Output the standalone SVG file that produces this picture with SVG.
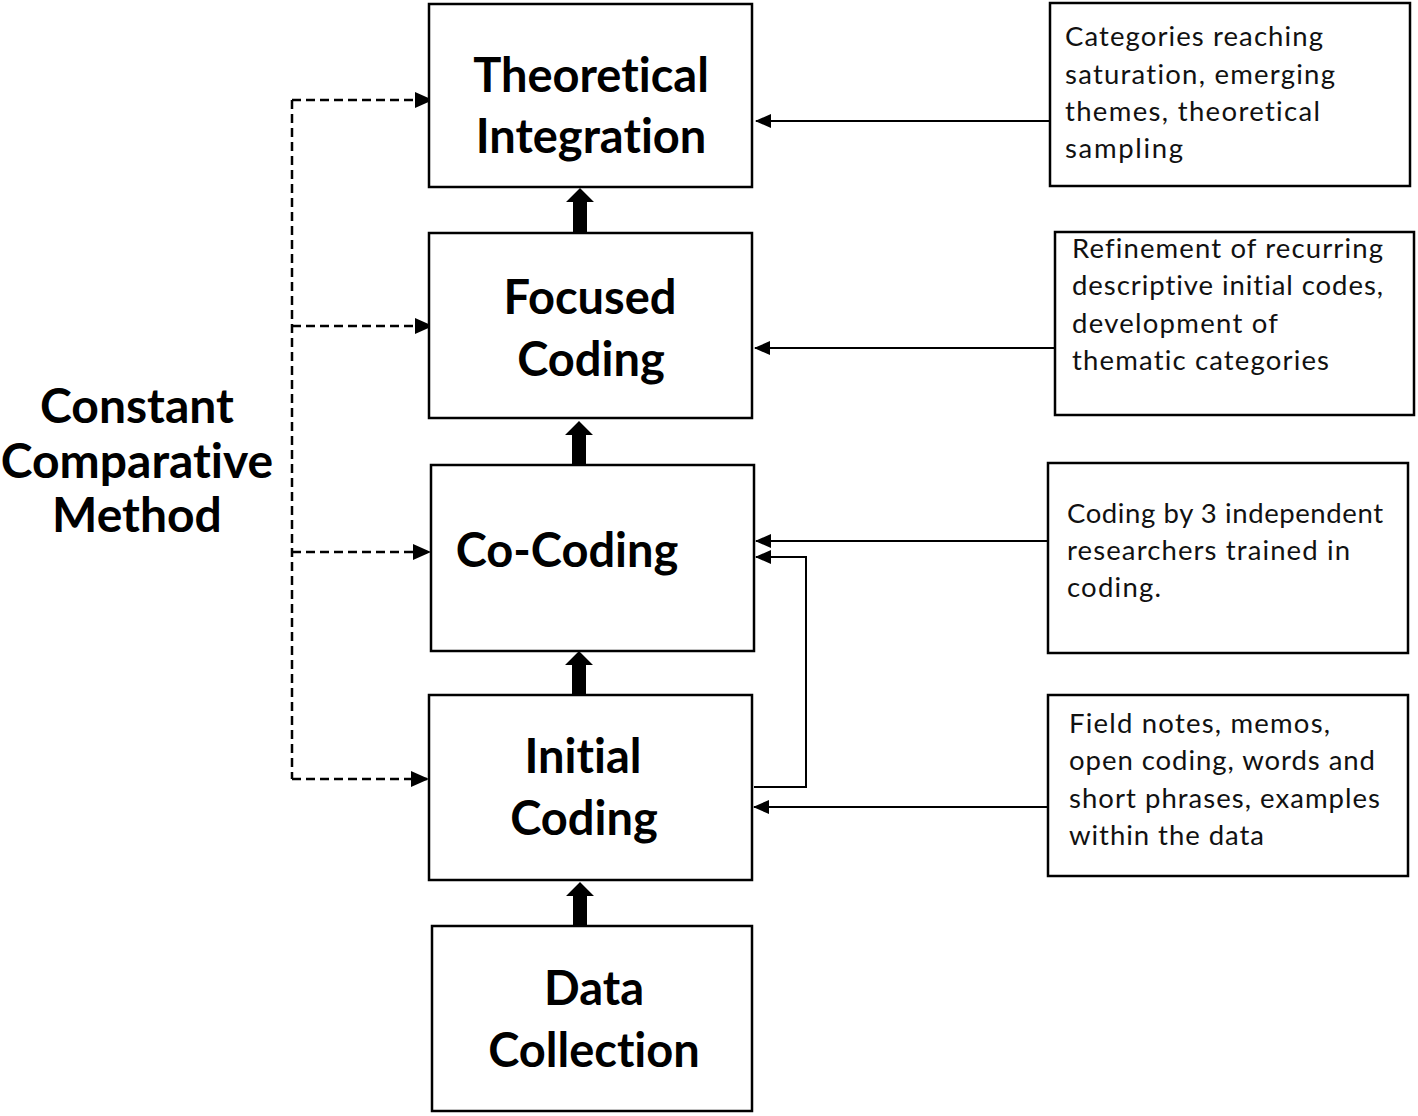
<svg xmlns="http://www.w3.org/2000/svg" width="1418" height="1116" viewBox="0 0 1418 1116">
<defs>
<style>
text{font-variant-ligatures:none;font-feature-settings:"liga" 0}
.box{fill:#fff;stroke:#000;stroke-width:2.5}
.t{font-family:Lato,"Open Sans","Liberation Sans",sans-serif;font-weight:bold;font-size:47px;fill:#000;text-anchor:middle}
.l{font-size:48px}
.d{font-family:Lato,"Open Sans","Liberation Sans",sans-serif;font-size:27.5px;fill:#111}
.ln{fill:none;stroke:#000;stroke-width:2}
.dash{fill:none;stroke:#000;stroke-width:2.5;stroke-dasharray:9 5}
</style>
<marker id="ah" markerWidth="16" markerHeight="14" refX="15" refY="7" orient="auto" markerUnits="userSpaceOnUse">
<path d="M0,0 L16,7 L0,14 Z" fill="#000"/>
</marker>
<marker id="ahd" markerWidth="18" markerHeight="16" refX="17" refY="8" orient="auto" markerUnits="userSpaceOnUse">
<path d="M0,0 L18,8 L0,16 Z" fill="#000"/>
</marker>
<path id="thick" d="M-7,0 L-7,-30 L-14,-30 L0,-44 L14,-30 L7,-30 L7,0 Z" fill="#000"/>
</defs>
<rect width="1418" height="1116" fill="#fff"/>

<g id="connectors">
<use href="#thick" x="580" y="232"/>
<use href="#thick" x="579" y="465"/>
<use href="#thick" x="579" y="695"/>
<use href="#thick" x="580" y="926"/>
<line class="ln" x1="1050" y1="121" x2="756" y2="121" marker-end="url(#ah)"/>
<line class="ln" x1="1054" y1="348" x2="755" y2="348" marker-end="url(#ah)"/>
<line class="ln" x1="1048" y1="541" x2="756" y2="541" marker-end="url(#ah)"/>
<line class="ln" x1="1048" y1="807" x2="754" y2="807" marker-end="url(#ah)"/>
<polyline class="ln" points="754,787 806,787 806,557 756,557" marker-end="url(#ah)"/>
<path class="dash" d="M292,100 L292,779"/>
<line class="dash" x1="292" y1="100" x2="432" y2="100" marker-end="url(#ahd)"/>
<line class="dash" x1="292" y1="326" x2="432" y2="326" marker-end="url(#ahd)"/>
<line class="dash" x1="292" y1="552" x2="430" y2="552" marker-end="url(#ahd)"/>
<line class="dash" x1="292" y1="779" x2="428" y2="779" marker-end="url(#ahd)"/>
</g>

<g id="ccm">
<text class="t l" x="137" y="423">Constant</text>
<text class="t l" x="137" y="478">Comparative</text>
<text class="t l" x="137" y="532">Method</text>
</g>

<g id="theoretical-integration">
<rect class="box" x="429" y="4" width="323" height="183"/>
<text class="t" x="591" y="92">Theoretical</text>
<text class="t" x="591" y="153">Integration</text>
</g>
<g id="focused-coding">
<rect class="box" x="429" y="233" width="323" height="185"/>
<text class="t" x="590" y="314">Focused</text>
<text class="t" x="591" y="376">Coding</text>
</g>
<g id="co-coding">
<rect class="box" x="431" y="465" width="323" height="186"/>
<text class="t" x="567" y="567">Co-Coding</text>
</g>
<g id="initial-coding">
<rect class="box" x="429" y="695" width="323" height="185"/>
<text class="t" x="583" y="773">Initial</text>
<text class="t" x="584" y="835">Coding</text>
</g>
<g id="data-collection">
<rect class="box" x="432" y="926" width="320" height="185"/>
<text class="t" x="594" y="1005">Data</text>
<text class="t" x="594" y="1067">Collection</text>
</g>

<g id="note-theoretical">
<rect class="box" x="1050" y="3" width="360" height="183"/>
<text class="d" x="1065" y="46" textLength="258">Categories reaching</text>
<text class="d" x="1065" y="84" textLength="270">saturation, emerging</text>
<text class="d" x="1065" y="121" textLength="255">themes, theoretical</text>
<text class="d" x="1065" y="158" textLength="118">sampling</text>
</g>
<g id="note-focused">
<rect class="box" x="1055" y="232" width="359" height="183"/>
<text class="d" x="1072" y="258" textLength="311">Refinement of recurring</text>
<text class="d" x="1072" y="295" textLength="311">descriptive initial codes,</text>
<text class="d" x="1072" y="333" textLength="206">development of</text>
<text class="d" x="1072" y="370" textLength="257">thematic categories</text>
</g>
<g id="note-cocoding">
<rect class="box" x="1048" y="463" width="360" height="190"/>
<text class="d" x="1067" y="523" textLength="316">Coding by 3  independent</text>
<text class="d" x="1067" y="560" textLength="283">researchers trained in</text>
<text class="d" x="1067" y="597" textLength="94">coding.</text>
</g>
<g id="note-initial">
<rect class="box" x="1048" y="695" width="360" height="181"/>
<text class="d" x="1069" y="733" textLength="261">Field notes, memos,</text>
<text class="d" x="1069" y="770" textLength="306">open coding, words and</text>
<text class="d" x="1069" y="808" textLength="311">short phrases, examples</text>
<text class="d" x="1069" y="845" textLength="195">within the data</text>
</g>
</svg>
